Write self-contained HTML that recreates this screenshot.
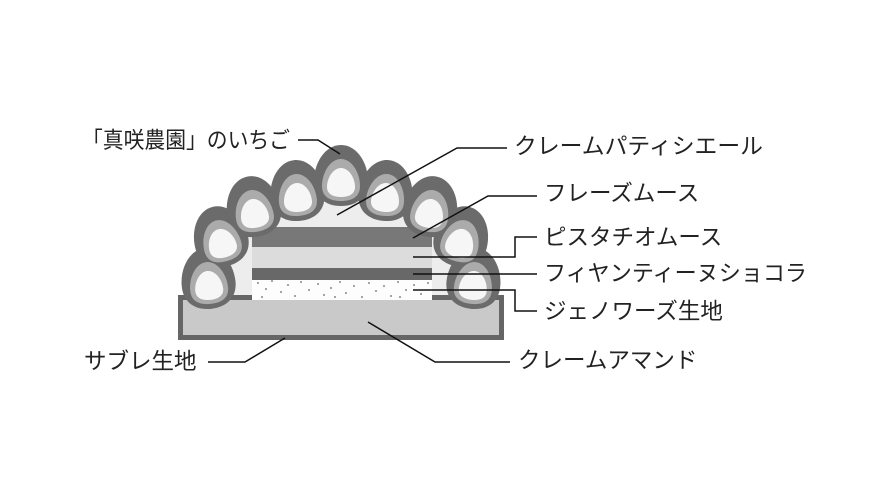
<!DOCTYPE html>
<html><head><meta charset="utf-8"><style>
html,body{margin:0;padding:0;background:#fff}
svg{display:block}
text{font-family:"Liberation Sans","Noto Sans CJK JP",sans-serif;font-size:22.5px;fill:#222}
</style></head><body>
<svg width="890" height="501" viewBox="0 0 890 501" xmlns="http://www.w3.org/2000/svg">
<defs>
<path id="o" d="M0,0 C16,0 27,18 27,36 C27,52 16,61 0,61 C-16,61 -27,52 -27,36 C-27,18 -16,0 0,0Z"/>
<path id="m" d="M0,14 C11,14 19,28 19,41 C19,52 11,56 0,56 C-11,56 -19,52 -19,41 C-19,28 -11,14 0,14Z"/>
<path id="w" d="M0,23 C8,23 14,33 14,42 C14,49 8,52 0,52 C-8,52 -14,49 -14,42 C-14,33 -8,23 0,23Z"/>
</defs>
<path d="M228,300 L228,225 L300,203 L385,203 L455,225 L456,300Z" fill="#ededed"/>
<rect x="178" y="295" width="326" height="45" fill="#666"/>
<rect x="183" y="300" width="316" height="35" fill="#c9c9c9"/>
<rect x="252" y="227" width="180" height="20" fill="#787878"/>
<rect x="252" y="247" width="180" height="21" fill="#dcdcdc"/>
<rect x="252" y="268" width="180" height="12" fill="#686868"/>
<rect x="252" y="280" width="180" height="20" fill="#fdfdfd"/>
<g fill="#888">
<circle cx="258" cy="283" r="1"/><circle cx="266" cy="289" r="1"/><circle cx="272" cy="281" r="1"/><circle cx="281" cy="292" r="1"/><circle cx="288" cy="285" r="1"/><circle cx="295" cy="296" r="1"/><circle cx="301" cy="282" r="1"/><circle cx="309" cy="290" r="1"/><circle cx="318" cy="284" r="1"/><circle cx="324" cy="295" r="1"/><circle cx="331" cy="288" r="1"/><circle cx="340" cy="282" r="1"/><circle cx="346" cy="293" r="1"/><circle cx="354" cy="286" r="1"/><circle cx="362" cy="297" r="1"/><circle cx="369" cy="283" r="1"/><circle cx="376" cy="291" r="1"/><circle cx="384" cy="286" r="1"/><circle cx="391" cy="296" r="1"/><circle cx="398" cy="282" r="1"/><circle cx="406" cy="290" r="1"/><circle cx="414" cy="285" r="1"/><circle cx="421" cy="294" r="1"/><circle cx="428" cy="283" r="1"/><circle cx="262" cy="297" r="1"/><circle cx="335" cy="297" r="1"/><circle cx="400" cy="297" r="1"/>
</g>
<g fill="#6b6b6b">
<use href="#o" transform="translate(208,248) rotate(-6,0,30)"/>
<use href="#o" transform="translate(220,206) rotate(-15,0,30)"/>
<use href="#o" transform="translate(253,176) rotate(-10,0,30)"/>
<use href="#o" transform="translate(297,160) rotate(-5,0,30)"/>
<use href="#o" transform="translate(341,145)"/>
<use href="#o" transform="translate(386,160) rotate(5,0,30)"/>
<use href="#o" transform="translate(431,176) rotate(10,0,30)"/>
<use href="#o" transform="translate(462,206) rotate(15,0,30)"/>
<use href="#o" transform="translate(474,248) rotate(6,0,30)"/>
</g>
<g fill="#ababab">
<use href="#m" transform="translate(208,248) rotate(-6,0,30)"/>
<use href="#m" transform="translate(220,206) rotate(-15,0,30)"/>
<use href="#m" transform="translate(253,176) rotate(-10,0,30)"/>
<use href="#m" transform="translate(297,160) rotate(-5,0,30)"/>
<use href="#m" transform="translate(341,145)"/>
<use href="#m" transform="translate(386,160) rotate(5,0,30)"/>
<use href="#m" transform="translate(431,176) rotate(10,0,30)"/>
<use href="#m" transform="translate(462,206) rotate(15,0,30)"/>
<use href="#m" transform="translate(474,248) rotate(6,0,30)"/>
</g>
<g fill="#f6f6f6">
<use href="#w" transform="translate(208,248) rotate(-6,0,30)"/>
<use href="#w" transform="translate(220,206) rotate(-15,0,30)"/>
<use href="#w" transform="translate(253,176) rotate(-10,0,30)"/>
<use href="#w" transform="translate(297,160) rotate(-5,0,30)"/>
<use href="#w" transform="translate(341,145)"/>
<use href="#w" transform="translate(386,160) rotate(5,0,30)"/>
<use href="#w" transform="translate(431,176) rotate(10,0,30)"/>
<use href="#w" transform="translate(462,206) rotate(15,0,30)"/>
<use href="#w" transform="translate(474,248) rotate(6,0,30)"/>
</g>
<g fill="none" stroke="#111" stroke-width="1.5">
<polyline points="298,140 318,140 340,154"/>
<polyline points="337,215 457,148 507,148"/>
<polyline points="413,238 488,196 537,196"/>
<polyline points="413,257 515,257 515,237 537,237"/>
<polyline points="413,274 537,274"/>
<polyline points="413,290 515,290 515,311 537,311"/>
<polyline points="368,322 435,362 510,362"/>
<polyline points="208,362 245,362 285,338"/>
</g>
<text x="82" y="148" textLength="208" lengthAdjust="spacingAndGlyphs">「真咲農園」のいちご</text>
<text x="514" y="154" textLength="249" lengthAdjust="spacingAndGlyphs">クレームパティシエール</text>
<text x="544" y="201">フレーズムース</text>
<text x="544" y="245">ピスタチオムース</text>
<text x="544" y="281" textLength="263" lengthAdjust="spacingAndGlyphs">フィヤンティーヌショコラ</text>
<text x="544" y="319">ジェノワーズ生地</text>
<text x="518" y="368">クレームアマンド</text>
<text x="84" y="369">サブレ生地</text>
</svg>
</body></html>
